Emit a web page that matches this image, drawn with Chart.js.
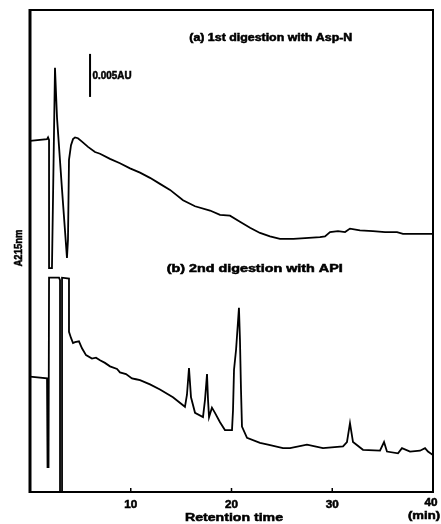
<!DOCTYPE html>
<html>
<head>
<meta charset="utf-8">
<script src="https://cdn.jsdelivr.net/npm/chart.js@4/dist/chart.umd.min.js"></script>
<style>
  html, body { margin: 0; padding: 0; background: #fff; }
  #chromChart { display: block; }
</style>
</head>
<body>
<canvas id="chromChart" width="441" height="524"></canvas>
<script>
// retention time (min) and absorbance (mAU, offset traces)
var aTime = [0, 1.69, 1.79, 1.89, 1.89, 2.18, 2.48, 2.68, 3.18, 3.67, 3.77, 3.87, 4.07, 4.27, 4.47, 4.76,
    5.16, 5.76, 6.45, 6.95, 7.94, 8.93, 9.93, 10.92, 11.91, 12.90, 13.90, 15.19, 16.38, 17.87, 18.86,
    19.85, 20.84, 21.84, 22.83, 23.82, 24.81, 26.15, 27.30, 28.78, 29.28, 29.78, 30.57, 31.27, 31.76,
    32.75, 34.04, 35.24, 36.43, 37.02, 40];
var aSignal = [40.8, 41.0, 41.2, 40.9, 26.0, 26.0, 49.3, 43.5, 35.1, 27.2, 29.3, 38.6, 40.3, 41.0, 41.2, 41.1,
    40.7, 40.1, 39.5, 39.3, 38.7, 38.2, 37.6, 37.1, 36.5, 35.8, 35.1, 33.9, 33.2, 32.7, 32.2,
    32.1, 31.4, 30.7, 30.1, 29.7, 29.4, 29.4, 29.5, 29.6, 29.7, 30.2, 30.3, 30.2, 30.6,
    30.4, 30.3, 30.2, 30.2, 30.0, 30.0];

var bTime = [0, 1.69, 1.74, 1.84, 1.89, 2.88, 2.98, 2.98, 3.18, 3.18, 3.87, 3.87, 4.07, 4.27, 4.47, 4.86,
    5.16, 5.56, 6.15, 6.55, 6.95, 7.44, 7.94, 8.64, 8.93, 9.53, 10.12, 10.52, 10.92, 11.91, 12.90,
    14.19, 15.38, 15.58, 15.78, 15.98, 16.38, 17.17, 17.37, 17.57, 17.67, 17.77, 18.06, 18.36, 18.86,
    19.35, 20.05, 20.15, 20.25, 20.45, 20.74, 20.84, 20.94, 21.04, 21.54, 22.83, 23.62, 25.11, 25.81,
    27.49, 29.08, 31.07, 31.46, 31.76, 32.06, 33.05, 34.74, 35.14, 35.43, 36.53, 36.92, 37.72, 38.71,
    39.21, 39.50, 40];
var bSignal = [13.4, 13.2, 2.9, 2.9, 24.9, 24.9, 24.6, 0, 0, 24.9, 24.8, 18.6, 17.9, 17.3, 17.4, 17.5,
    16.7, 15.9, 15.5, 15.6, 15.3, 15.0, 14.6, 14.3, 13.9, 13.7, 13.2, 13.1, 13.0, 12.5, 11.9,
    11.0, 9.9, 11.3, 14.4, 11.0, 9.2, 8.7, 10.7, 13.7, 10.7, 8.7, 9.8, 9.2, 8.1,
    7.2, 7.2, 9.5, 14.2, 16.5, 21.4, 17.7, 12.0, 7.6, 6.3, 5.7, 5.5, 5.1, 5.1,
    5.5, 5.1, 5.3, 5.8, 8.0, 5.8, 4.9, 4.8, 5.8, 4.7, 4.5, 5.1, 4.7, 4.8,
    5.1, 4.7, 4.3];

var xTicks = [10, 20, 30, 40];
var traceLabels = ['(a) 1st digestion with Asp-N', '(b) 2nd digestion with API'];
var scaleBarAU = 0.005;

function toPoints(xs, ys) {
    return xs.map(function (x, i) { return { x: x, y: ys[i] }; });
}

// heavy, wide lettering like the original figure: bold face stretched to a width
function wideText(ctx, text, cx, cy, size, width) {
    ctx.font = 'bold ' + size + 'px "Liberation Sans", Arial, sans-serif';
    var w = ctx.measureText(text).width;
    ctx.save();
    ctx.translate(cx, cy);
    ctx.scale(width / w, 1);
    ctx.lineWidth = 0.5;
    ctx.fillText(text, 0, 0);
    ctx.strokeText(text, 0, 0);
    ctx.restore();
}

var decorations = {
    id: 'decorations',
    afterDraw: function (chart) {
        var ctx = chart.ctx;
        var xs = chart.scales.x, ys = chart.scales.y;
        var a = chart.chartArea;
        ctx.save();
        ctx.strokeStyle = '#000';
        ctx.fillStyle = '#000';

        // frame
        ctx.lineWidth = 2;
        ctx.beginPath();
        ctx.moveTo(a.left, a.top); ctx.lineTo(a.right, a.top);
        ctx.lineTo(a.right, a.bottom); ctx.lineTo(a.left, a.bottom);
        ctx.stroke();
        ctx.lineWidth = 3;
        ctx.beginPath();
        ctx.moveTo(a.left, a.top - 1); ctx.lineTo(a.left, a.bottom + 1);
        ctx.stroke();

        // ticks and tick labels
        ctx.textAlign = 'center';
        ctx.textBaseline = 'middle';
        xTicks.forEach(function (t) {
            var px = xs.getPixelForValue(t);
            if (t < 40) {
                ctx.lineWidth = 1.5;
                ctx.beginPath();
                ctx.moveTo(px, a.bottom); ctx.lineTo(px, a.bottom - 4);
                ctx.stroke();
            }
            wideText(ctx, String(t), Math.min(px, 431), t === 40 ? 503 : 505, 10, 13);
        });
        wideText(ctx, 'Retention time', 234, 518, 11, 98);
        wideText(ctx, '(min)', 424, 516, 10, 32);

        // y axis title
        ctx.save();
        ctx.translate(19, 248);
        ctx.rotate(-Math.PI / 2);
        wideText(ctx, 'A215nm', 0, 0, 10, 37);
        ctx.restore();

        // scale bar: 0.005 AU = 5 mAU
        var bx = xs.getPixelForValue(5.96);
        ctx.lineWidth = 2;
        ctx.beginPath();
        ctx.moveTo(bx, ys.getPixelForValue(45.9));
        ctx.lineTo(bx, ys.getPixelForValue(45.9 + scaleBarAU * 1000));
        ctx.stroke();
        wideText(ctx, scaleBarAU.toFixed(3) + 'AU', bx + 22, ys.getPixelForValue(48.3), 10, 39);

        // trace labels
        wideText(ctx, traceLabels[0], xs.getPixelForValue(23.9), ys.getPixelForValue(52.7), 10, 163);
        wideText(ctx, traceLabels[1], xs.getPixelForValue(22.3), ys.getPixelForValue(25.9), 10, 176);
        ctx.restore();
    }
};

var ctx = document.getElementById('chromChart').getContext('2d');
var chromChart = new Chart(ctx, {
    type: 'line',
    data: {
        datasets: [{
            label: traceLabels[0],
            data: toPoints(aTime, aSignal),
            borderColor: '#000',
            borderWidth: 1.8,
            pointRadius: 0,
            tension: 0,
            fill: false
        }, {
            label: traceLabels[1],
            data: toPoints(bTime, bSignal),
            borderColor: '#000',
            borderWidth: 1.8,
            pointRadius: 0,
            tension: 0,
            fill: false
        }]
    },
    options: {
        responsive: false,
        animation: false,
        layout: {
            padding: { left: 30, right: 8, top: 10, bottom: 32 }
        },
        scales: {
            x: { type: 'linear', min: 0, max: 40, display: false },
            y: { min: 0, max: 56, display: false }
        },
        plugins: {
            legend: { display: false },
            tooltip: { enabled: false }
        }
    },
    plugins: [decorations]
});
</script>
</body>
</html>
